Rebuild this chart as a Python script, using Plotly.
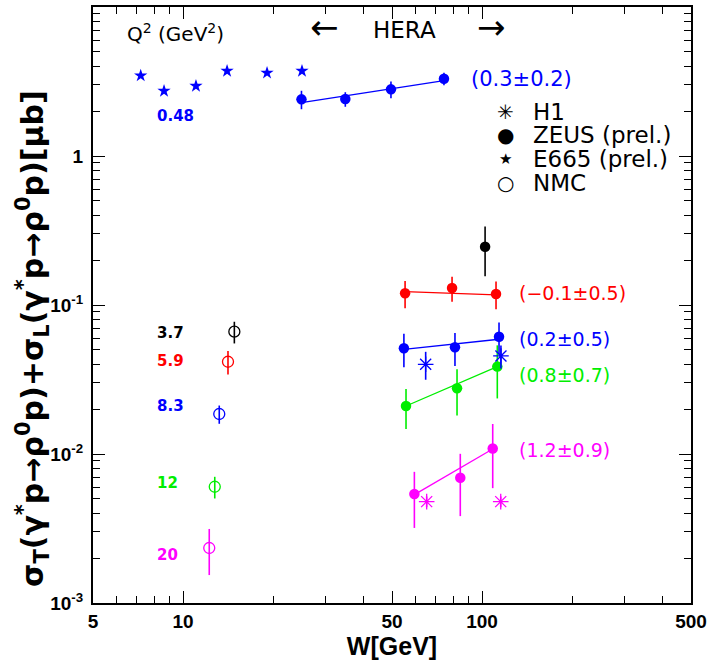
import plotly.graph_objects as go
import math

# ---------------- data ----------------
# Q^2 bins and colours
q2_labels = ["0.48", "3.7", "5.9", "8.3", "12", "20"]
q2_colors = ["#0000ff", "#000000", "#ff0000", "#0000ff", "#00ee00", "#ff00ff"]

# ZEUS (prel.)  - filled circles
zeus_w_048 = [24.9, 34.9, 49.6, 74.6]
zeus_s_048 = [2.40, 2.41, 2.80, 3.30]
zeus_e_048 = [0.34, 0.27, 0.36, 0.32]

zeus_w_37 = [102.4]
zeus_s_37 = [0.246]
zeus_e_37 = [0.09]

zeus_w_59 = [55.3, 79.4, 111.4]
zeus_s_59 = [0.120, 0.130, 0.1186]
zeus_e_59 = [0.025, 0.025, 0.025]

zeus_w_83 = [54.8, 81.2, 114.0]
zeus_s_83 = [0.0512, 0.0520, 0.0613]
zeus_e_83 = [0.013, 0.013, 0.015]

zeus_w_12 = [55.7, 82.5, 112.5]
zeus_s_12 = [0.0210, 0.0276, 0.0386]
zeus_e_12 = [0.0063, 0.0095, 0.015]

zeus_w_20 = [59.4, 84.6, 108.6]
zeus_s_20 = [0.00539, 0.00693, 0.0109]
zeus_e_20 = [0.0022, 0.0031, 0.005]

# fits sigma ~ W^delta (end points of the drawn lines)
fit_w_048 = [24.9, 74.6];  fit_s_048 = [2.28, 3.20]
fit_w_59 = [55.3, 111.4];  fit_s_59 = [0.123, 0.117]
fit_w_83 = [54.8, 114.0];  fit_s_83 = [0.0504, 0.0589]
fit_w_12 = [55.7, 112.5];  fit_s_12 = [0.0210, 0.0386]
fit_w_20 = [61.2, 108.6];  fit_s_20 = [0.00553, 0.0108]
fit_texts = ["(0.3\u00b10.2)", "(\u22120.1\u00b10.5)", "(0.2\u00b10.5)", "(0.8\u00b10.7)", "(1.2\u00b10.9)"]

# E665 (prel.) - stars, Q2 = 0.48
e665_w = [7.22, 8.64, 11.05, 14.04, 19.1, 25.0]
e665_s = [3.46, 2.73, 2.95, 3.72, 3.61, 3.72]

# H1 - asterisks
h1_w_83 = [64.8, 115.7]
h1_s_83 = [0.0400, 0.0455]
h1_e_83 = [0.0085, 0.008]
h1_w_20 = [65.3, 115.5]
h1_s_20 = [0.00479, 0.00479]
h1_e_20 = [0.0004, 0.0004]

# NMC - open circles (Q2 = 3.7, 5.9, 8.3, 12, 20)
nmc_w = [14.85, 14.14, 13.22, 12.77, 12.24]
nmc_s = [0.0662, 0.0416, 0.01855, 0.00603, 0.00234]
nmc_e = [0.011, 0.0075, 0.0026, 0.001, 0.0008]
nmc_colors = ["#000000", "#ff0000", "#0000ff", "#00ee00", "#ff00ff"]

# axis ticks
x_tickvals = [5, 10, 50, 100, 500]
x_ticktext = ["5", "10", "50", "100", "500"]
x_minor = [6, 7, 8, 9, 20, 30, 40, 60, 70, 80, 90, 200, 300, 400]
y_tickvals = [1e-3, 1e-2, 1e-1, 1, 10]
y_ticktext = ["10<sup>-3</sup>", "10<sup>-2</sup>", "10<sup>-1</sup>", "1", "10"]
y_minor = [m * 10 ** e for e in range(-3, 1) for m in range(2, 10)]

legend_names = ["H1", "ZEUS (prel.)", "E665 (prel.)", "NMC"]
legend_symbols = ["\u2733", "\u25cf", "\u2605", "\u25cb"]

# ---------------- figure ----------------
fig = go.Figure()

ERR_T = 1.6


def zeus(w, s, e, col):
    fig.add_trace(go.Scatter(
        x=w, y=s, mode="markers",
        marker=dict(symbol="circle", size=10.5, color=col),
        error_y=dict(type="data", array=e, thickness=ERR_T, width=0, color=col),
        showlegend=False))


def fit(w, s, col):
    fig.add_trace(go.Scatter(x=w, y=s, mode="lines",
                             line=dict(color=col, width=1.3), showlegend=False))


fit(fit_w_048, fit_s_048, q2_colors[0])
fit(fit_w_59, fit_s_59, q2_colors[2])
fit(fit_w_83, fit_s_83, q2_colors[3])
fit(fit_w_12, fit_s_12, q2_colors[4])
fit(fit_w_20, fit_s_20, q2_colors[5])

zeus(zeus_w_048, zeus_s_048, zeus_e_048, q2_colors[0])
zeus(zeus_w_37, zeus_s_37, zeus_e_37, q2_colors[1])
zeus(zeus_w_59, zeus_s_59, zeus_e_59, q2_colors[2])
zeus(zeus_w_83, zeus_s_83, zeus_e_83, q2_colors[3])
zeus(zeus_w_12, zeus_s_12, zeus_e_12, q2_colors[4])
zeus(zeus_w_20, zeus_s_20, zeus_e_20, q2_colors[5])

fig.add_trace(go.Scatter(x=e665_w, y=e665_s, mode="markers",
                         marker=dict(symbol="star", size=10, color=q2_colors[0]),
                         showlegend=False))

for w, s, e, col in [(h1_w_83, h1_s_83, h1_e_83, q2_colors[3]),
                     (h1_w_20, h1_s_20, h1_e_20, q2_colors[5])]:
    fig.add_trace(go.Scatter(
        x=w, y=s, mode="markers",
        marker=dict(symbol="asterisk-open", size=13, color=col,
                    line=dict(color=col, width=1.3)),
        error_y=dict(type="data", array=e, thickness=ERR_T, width=0, color=col),
        showlegend=False))

for w, s, e, col in zip(nmc_w, nmc_s, nmc_e, nmc_colors):
    fig.add_trace(go.Scatter(
        x=[w], y=[s], mode="markers",
        marker=dict(symbol="circle-open", size=11, color=col,
                    line=dict(color=col, width=1.3)),
        error_y=dict(type="data", array=[e], thickness=ERR_T, width=0, color=col),
        showlegend=False))

# ---------------- annotations ----------------
ann = []
# Q2 labels (bold, left)
q2_label_y = [0.2685, -1.188, -1.376, -1.678, -2.197, -2.678]
for t, c, yy in zip(q2_labels, q2_colors, q2_label_y):
    ann.append(dict(x=0.9064, y=yy, xref="x", yref="y", text=t, showarrow=False,
                    xanchor="left", yanchor="middle",
                    font=dict(family="DejaVu Sans", size=15, color=c, weight="bold")))

# fit exponents
fit_cols = [q2_colors[0], q2_colors[2], q2_colors[3], q2_colors[4], q2_colors[5]]
fit_lx = [1.9565, 2.117, 2.117, 2.117, 2.117]
fit_ly = [0.5168, -0.9215, -1.228, -1.470, -1.973]
fit_fs = [21, 19, 19, 19, 19]
for t, c, xx, yy, fs in zip(fit_texts, fit_cols, fit_lx, fit_ly, fit_fs):
    ann.append(dict(x=xx, y=yy, xref="x", yref="y", text=t, showarrow=False,
                    xanchor="left", yanchor="middle",
                    font=dict(family="DejaVu Sans", size=fs, color=c)))

# header texts
ann.append(dict(x=0.138, y=0.956, xref="paper", yref="paper",
                text="Q<sup>2</sup> (GeV<sup>2</sup>)", showarrow=False,
                xanchor="center", yanchor="middle",
                font=dict(family="DejaVu Sans", size=20, color="black")))
ann.append(dict(x=0.521, y=0.961, xref="paper", yref="paper", text="HERA",
                showarrow=False, xanchor="center", yanchor="middle",
                font=dict(family="DejaVu Sans", size=23, color="black")))
ann.append(dict(x=0.387, y=0.966, xref="paper", yref="paper", text="\u2190",
                showarrow=False, xanchor="center", yanchor="middle",
                font=dict(family="DejaVu Sans", size=34, color="black")))
ann.append(dict(x=0.666, y=0.966, xref="paper", yref="paper", text="\u2192",
                showarrow=False, xanchor="center", yanchor="middle",
                font=dict(family="DejaVu Sans", size=34, color="black")))

# legend (symbols + names)
leg_y = [0.8243, 0.7852, 0.745, 0.7047]
leg_sym_size = [20, 20, 15, 20]
for name, sym, yy, ss in zip(legend_names, legend_symbols, leg_y, leg_sym_size):
    ann.append(dict(x=0.689, y=yy, xref="paper", yref="paper", text=sym,
                    showarrow=False, xanchor="center", yanchor="middle",
                    font=dict(family="DejaVu Sans", size=ss, color="black")))
    ann.append(dict(x=0.7324, y=yy, xref="paper", yref="paper", text=name,
                    showarrow=False, xanchor="left", yanchor="middle",
                    font=dict(family="DejaVu Sans", size=23, color="black")))

# y-axis title
ann.append(dict(x=-0.1003, y=0.443, xref="paper", yref="paper", textangle=-90,
                text="\u03c3<sub>T</sub>(\u03b3<sup>*</sup>p\u2192\u03c1<sup>0</sup>p)+"
                     "\u03c3<sub>L</sub>(\u03b3<sup>*</sup>p\u2192\u03c1<sup>0</sup>p)[\u03bcb]",
                showarrow=False, xanchor="center", yanchor="middle",
                font=dict(family="DejaVu Sans", size=30, color="black", weight="bold")))

axis_common = dict(
    showline=True, linecolor="black", linewidth=2, mirror="allticks",
    ticks="inside", ticklen=12, tickwidth=1.3, tickcolor="black",
    showgrid=False, zeroline=False, automargin=False,
    tickfont=dict(family="Liberation Sans", size=19, color="black", weight="bold"),
)

fig.update_layout(
    width=707, height=660,
    margin=dict(l=93, r=16, t=7, b=57),
    plot_bgcolor="white", paper_bgcolor="white",
    showlegend=False,
    annotations=ann,
    xaxis=dict(type="log", range=[math.log10(5), math.log10(500)],
               tickmode="array", tickvals=x_tickvals, ticktext=x_ticktext,
               minor=dict(tickmode="array", tickvals=x_minor, ticks="inside", ticklen=7,
                          tickwidth=1.2, tickcolor="black", showgrid=False),
               title=dict(text="W[GeV]", standoff=2,
                          font=dict(family="Liberation Sans", size=25, color="black",
                                    weight="bold")),
               **axis_common),
    yaxis=dict(type="log", range=[-3, 1],
               tickmode="array", tickvals=y_tickvals, ticktext=y_ticktext,
               ticklabelstandoff=4,
               minor=dict(tickmode="array", tickvals=y_minor, ticks="inside", ticklen=7,
                          tickwidth=1.2, tickcolor="black", showgrid=False),
               **axis_common),
)

# let the figure fill the 707x660 window exactly (no default page margin)
fig.write_html("out.html",
               config={"displayModeBar": False},
               post_script="document.body.style.margin='0';"
                           "document.body.style.overflow='hidden';")
